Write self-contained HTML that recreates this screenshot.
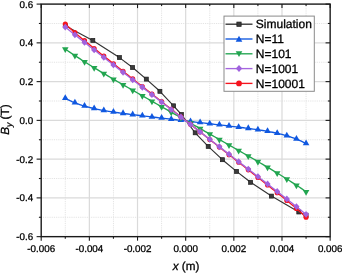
<!DOCTYPE html><html><head><meta charset="utf-8"><style>html,body{margin:0;padding:0;background:#fff}svg{display:block}text{font-family:"Liberation Sans",sans-serif;fill:#000;text-rendering:geometricPrecision;stroke:#000;stroke-width:0.3px}</style></head><body>
<svg width="342" height="273" viewBox="0 0 342 273">
<rect width="342" height="273" fill="#fff"/>
<line x1="65.28" y1="4.1" x2="65.28" y2="236.65" stroke="#e0e0e0" stroke-width="1" stroke-dasharray="0.92 0.92"/>
<line x1="113.44" y1="4.1" x2="113.44" y2="236.65" stroke="#e0e0e0" stroke-width="1" stroke-dasharray="0.92 0.92"/>
<line x1="161.6" y1="4.1" x2="161.6" y2="236.65" stroke="#e0e0e0" stroke-width="1" stroke-dasharray="0.92 0.92"/>
<line x1="209.75" y1="4.1" x2="209.75" y2="236.65" stroke="#e0e0e0" stroke-width="1" stroke-dasharray="0.92 0.92"/>
<line x1="257.91" y1="4.1" x2="257.91" y2="236.65" stroke="#e0e0e0" stroke-width="1" stroke-dasharray="0.92 0.92"/>
<line x1="306.07" y1="4.1" x2="306.07" y2="236.65" stroke="#e0e0e0" stroke-width="1" stroke-dasharray="0.92 0.92"/>
<line x1="41.2" y1="217.27" x2="330.15" y2="217.27" stroke="#e0e0e0" stroke-width="1" stroke-dasharray="0.92 0.92"/>
<line x1="41.2" y1="178.51" x2="330.15" y2="178.51" stroke="#e0e0e0" stroke-width="1" stroke-dasharray="0.92 0.92"/>
<line x1="41.2" y1="139.75" x2="330.15" y2="139.75" stroke="#e0e0e0" stroke-width="1" stroke-dasharray="0.92 0.92"/>
<line x1="41.2" y1="101" x2="330.15" y2="101" stroke="#e0e0e0" stroke-width="1" stroke-dasharray="0.92 0.92"/>
<line x1="41.2" y1="62.24" x2="330.15" y2="62.24" stroke="#e0e0e0" stroke-width="1" stroke-dasharray="0.92 0.92"/>
<line x1="41.2" y1="23.48" x2="330.15" y2="23.48" stroke="#e0e0e0" stroke-width="1" stroke-dasharray="0.92 0.92"/>
<line x1="89.36" y1="4.1" x2="89.36" y2="236.65" stroke="#dadada" stroke-width="1.2"/>
<line x1="137.52" y1="4.1" x2="137.52" y2="236.65" stroke="#dadada" stroke-width="1.2"/>
<line x1="185.67" y1="4.1" x2="185.67" y2="236.65" stroke="#dadada" stroke-width="1.2"/>
<line x1="233.83" y1="4.1" x2="233.83" y2="236.65" stroke="#dadada" stroke-width="1.2"/>
<line x1="281.99" y1="4.1" x2="281.99" y2="236.65" stroke="#dadada" stroke-width="1.2"/>
<line x1="41.2" y1="197.89" x2="330.15" y2="197.89" stroke="#dadada" stroke-width="1.2"/>
<line x1="41.2" y1="159.13" x2="330.15" y2="159.13" stroke="#dadada" stroke-width="1.2"/>
<line x1="41.2" y1="120.38" x2="330.15" y2="120.38" stroke="#dadada" stroke-width="1.2"/>
<line x1="41.2" y1="81.62" x2="330.15" y2="81.62" stroke="#dadada" stroke-width="1.2"/>
<line x1="41.2" y1="42.86" x2="330.15" y2="42.86" stroke="#dadada" stroke-width="1.2"/>
<polyline fill="none" stroke="#333333" stroke-width="1.15" stroke-linejoin="round" points="65.3,25.8 92.8,40.4 119.4,57.6 132.6,67.5 146.3,79.1 159.9,91.3 173.6,105.8 181.4,114.5 195.2,132.8 208.2,146.4 222.4,159.7 236.5,171.4 250.6,182.3 271.4,196.1 298.8,212 306.07,215.2"/>
<rect x="63.3" y="23.8" width="4.0" height="4.0" fill="#3a3a3a" stroke="#1c1c1c" stroke-width="0.7"/>
<rect x="90.8" y="38.4" width="4.0" height="4.0" fill="#3a3a3a" stroke="#1c1c1c" stroke-width="0.7"/>
<rect x="117.4" y="55.6" width="4.0" height="4.0" fill="#3a3a3a" stroke="#1c1c1c" stroke-width="0.7"/>
<rect x="130.6" y="65.5" width="4.0" height="4.0" fill="#3a3a3a" stroke="#1c1c1c" stroke-width="0.7"/>
<rect x="144.3" y="77.1" width="4.0" height="4.0" fill="#3a3a3a" stroke="#1c1c1c" stroke-width="0.7"/>
<rect x="157.9" y="89.3" width="4.0" height="4.0" fill="#3a3a3a" stroke="#1c1c1c" stroke-width="0.7"/>
<rect x="171.6" y="103.8" width="4.0" height="4.0" fill="#3a3a3a" stroke="#1c1c1c" stroke-width="0.7"/>
<rect x="179.4" y="112.5" width="4.0" height="4.0" fill="#3a3a3a" stroke="#1c1c1c" stroke-width="0.7"/>
<rect x="193.2" y="130.8" width="4.0" height="4.0" fill="#3a3a3a" stroke="#1c1c1c" stroke-width="0.7"/>
<rect x="206.2" y="144.4" width="4.0" height="4.0" fill="#3a3a3a" stroke="#1c1c1c" stroke-width="0.7"/>
<rect x="220.4" y="157.7" width="4.0" height="4.0" fill="#3a3a3a" stroke="#1c1c1c" stroke-width="0.7"/>
<rect x="234.5" y="169.4" width="4.0" height="4.0" fill="#3a3a3a" stroke="#1c1c1c" stroke-width="0.7"/>
<rect x="248.6" y="180.3" width="4.0" height="4.0" fill="#3a3a3a" stroke="#1c1c1c" stroke-width="0.7"/>
<rect x="269.4" y="194.1" width="4.0" height="4.0" fill="#3a3a3a" stroke="#1c1c1c" stroke-width="0.7"/>
<rect x="296.8" y="210" width="4.0" height="4.0" fill="#3a3a3a" stroke="#1c1c1c" stroke-width="0.7"/>
<rect x="304.07" y="213.2" width="4.0" height="4.0" fill="#3a3a3a" stroke="#1c1c1c" stroke-width="0.7"/>
<polyline fill="none" stroke="#1058E0" stroke-width="1.35" stroke-linejoin="round" points="65.28,98.28 67.69,99.54 70.09,100.7 72.5,101.77 74.91,102.77 77.32,103.69 79.73,104.54 82.13,105.34 84.54,106.07 86.95,106.76 89.36,107.4 91.77,107.99 94.17,108.55 96.58,109.08 98.99,109.57 101.4,110.04 103.81,110.48 106.21,110.9 108.62,111.3 111.03,111.69 113.44,112.05 115.85,112.41 118.25,112.75 120.66,113.09 123.07,113.41 125.48,113.73 127.88,114.04 130.29,114.35 132.7,114.65 135.11,114.95 137.52,115.24 139.92,115.53 142.33,115.82 144.74,116.11 147.15,116.39 149.56,116.68 151.96,116.96 154.37,117.25 156.78,117.53 159.19,117.81 161.6,118.1 164,118.38 166.41,118.66 168.82,118.94 171.23,119.22 173.64,119.51 176.04,119.79 178.45,120.07 180.86,120.35 183.27,120.64 185.67,120.92 188.08,121.2 190.49,121.48 192.9,121.76 195.31,122.05 197.71,122.33 200.12,122.61 202.53,122.89 204.94,123.18 207.35,123.46 209.75,123.74 212.16,124.02 214.57,124.31 216.98,124.59 219.39,124.87 221.79,125.16 224.2,125.44 226.61,125.73 229.02,126.02 231.43,126.3 233.83,126.6 236.24,126.89 238.65,127.19 241.06,127.49 243.46,127.79 245.87,128.1 248.28,128.42 250.69,128.75 253.1,129.08 255.5,129.42 257.91,129.78 260.32,130.15 262.73,130.53 265.14,130.93 267.54,131.35 269.95,131.8 272.36,132.26 274.77,132.76 277.18,133.28 279.58,133.84 281.99,134.44 284.4,135.08 286.81,135.76 289.22,136.5 291.62,137.29 294.03,138.15 296.44,139.07 298.85,140.06 301.25,141.14 303.66,142.3 306.07,143.55"/>
<polygon points="65.28,94.22 61.98,100.02 68.58,100.02" fill="#1058E0"/>
<polygon points="74.91,98.71 71.61,104.51 78.21,104.51" fill="#1058E0"/>
<polygon points="84.54,102.01 81.24,107.81 87.84,107.81" fill="#1058E0"/>
<polygon points="94.17,104.49 90.87,110.29 97.47,110.29" fill="#1058E0"/>
<polygon points="103.81,106.42 100.51,112.22 107.11,112.22" fill="#1058E0"/>
<polygon points="113.44,107.99 110.14,113.79 116.74,113.79" fill="#1058E0"/>
<polygon points="123.07,109.35 119.77,115.15 126.37,115.15" fill="#1058E0"/>
<polygon points="132.7,110.59 129.4,116.39 136,116.39" fill="#1058E0"/>
<polygon points="142.33,111.76 139.03,117.56 145.63,117.56" fill="#1058E0"/>
<polygon points="151.96,112.9 148.66,118.7 155.26,118.7" fill="#1058E0"/>
<polygon points="161.6,114.04 158.3,119.84 164.9,119.84" fill="#1058E0"/>
<polygon points="171.23,115.16 167.93,120.96 174.53,120.96" fill="#1058E0"/>
<polygon points="180.86,116.29 177.56,122.09 184.16,122.09" fill="#1058E0"/>
<polygon points="190.49,117.42 187.19,123.22 193.79,123.22" fill="#1058E0"/>
<polygon points="200.12,118.55 196.82,124.35 203.42,124.35" fill="#1058E0"/>
<polygon points="209.75,119.68 206.45,125.48 213.05,125.48" fill="#1058E0"/>
<polygon points="219.39,120.81 216.09,126.61 222.69,126.61" fill="#1058E0"/>
<polygon points="229.02,121.96 225.72,127.76 232.32,127.76" fill="#1058E0"/>
<polygon points="238.65,123.13 235.35,128.93 241.95,128.93" fill="#1058E0"/>
<polygon points="248.28,124.36 244.98,130.16 251.58,130.16" fill="#1058E0"/>
<polygon points="257.91,125.72 254.61,131.52 261.21,131.52" fill="#1058E0"/>
<polygon points="267.54,127.29 264.24,133.09 270.84,133.09" fill="#1058E0"/>
<polygon points="277.18,129.22 273.88,135.02 280.48,135.02" fill="#1058E0"/>
<polygon points="286.81,131.7 283.51,137.5 290.11,137.5" fill="#1058E0"/>
<polygon points="296.44,135.01 293.14,140.81 299.74,140.81" fill="#1058E0"/>
<polygon points="306.07,139.49 302.77,145.29 309.37,145.29" fill="#1058E0"/>
<polyline fill="none" stroke="#22A550" stroke-width="1.35" stroke-linejoin="round" points="65.28,49.06 67.69,50.71 70.09,52.35 72.5,53.96 74.91,55.55 77.32,57.12 79.73,58.68 82.13,60.21 84.54,61.74 86.95,63.25 89.36,64.74 91.77,66.22 94.17,67.7 96.58,69.16 98.99,70.61 101.4,72.05 103.81,73.49 106.21,74.91 108.62,76.33 111.03,77.75 113.44,79.15 115.85,80.56 118.25,81.96 120.66,83.35 123.07,84.74 125.48,86.13 127.88,87.51 130.29,88.89 132.7,90.27 135.11,91.64 137.52,93.02 139.92,94.39 142.33,95.76 144.74,97.14 147.15,98.51 149.56,99.87 151.96,101.24 154.37,102.61 156.78,103.98 159.19,105.34 161.6,106.71 164,108.08 166.41,109.44 168.82,110.81 171.23,112.18 173.64,113.54 176.04,114.91 178.45,116.28 180.86,117.64 183.27,119.01 185.67,120.38 188.08,121.74 190.49,123.11 192.9,124.47 195.31,125.84 197.71,127.21 200.12,128.57 202.53,129.94 204.94,131.31 207.35,132.67 209.75,134.04 212.16,135.41 214.57,136.77 216.98,138.14 219.39,139.51 221.79,140.88 224.2,142.24 226.61,143.61 229.02,144.99 231.43,146.36 233.83,147.73 236.24,149.11 238.65,150.48 241.06,151.86 243.46,153.24 245.87,154.62 248.28,156.01 250.69,157.4 253.1,158.79 255.5,160.19 257.91,161.6 260.32,163 262.73,164.42 265.14,165.84 267.54,167.26 269.95,168.7 272.36,170.14 274.77,171.59 277.18,173.05 279.58,174.53 281.99,176.01 284.4,177.5 286.81,179.01 289.22,180.54 291.62,182.07 294.03,183.63 296.44,185.2 298.85,186.79 301.25,188.4 303.66,190.04 306.07,191.69"/>
<polygon points="65.28,53.12 61.98,47.32 68.58,47.32" fill="#22A550"/>
<polygon points="74.91,59.61 71.61,53.81 78.21,53.81" fill="#22A550"/>
<polygon points="84.54,65.8 81.24,60 87.84,60" fill="#22A550"/>
<polygon points="94.17,71.76 90.87,65.96 97.47,65.96" fill="#22A550"/>
<polygon points="103.81,77.55 100.51,71.75 107.11,71.75" fill="#22A550"/>
<polygon points="113.44,83.21 110.14,77.41 116.74,77.41" fill="#22A550"/>
<polygon points="123.07,88.8 119.77,83 126.37,83" fill="#22A550"/>
<polygon points="132.7,94.33 129.4,88.53 136,88.53" fill="#22A550"/>
<polygon points="142.33,99.82 139.03,94.02 145.63,94.02" fill="#22A550"/>
<polygon points="151.96,105.3 148.66,99.5 155.26,99.5" fill="#22A550"/>
<polygon points="161.6,110.77 158.3,104.97 164.9,104.97" fill="#22A550"/>
<polygon points="171.23,116.24 167.93,110.44 174.53,110.44" fill="#22A550"/>
<polygon points="180.86,121.7 177.56,115.9 184.16,115.9" fill="#22A550"/>
<polygon points="190.49,127.17 187.19,121.37 193.79,121.37" fill="#22A550"/>
<polygon points="200.12,132.63 196.82,126.83 203.42,126.83" fill="#22A550"/>
<polygon points="209.75,138.1 206.45,132.3 213.05,132.3" fill="#22A550"/>
<polygon points="219.39,143.57 216.09,137.77 222.69,137.77" fill="#22A550"/>
<polygon points="229.02,149.05 225.72,143.25 232.32,143.25" fill="#22A550"/>
<polygon points="238.65,154.54 235.35,148.74 241.95,148.74" fill="#22A550"/>
<polygon points="248.28,160.07 244.98,154.27 251.58,154.27" fill="#22A550"/>
<polygon points="257.91,165.66 254.61,159.86 261.21,159.86" fill="#22A550"/>
<polygon points="267.54,171.32 264.24,165.52 270.84,165.52" fill="#22A550"/>
<polygon points="277.18,177.11 273.88,171.31 280.48,171.31" fill="#22A550"/>
<polygon points="286.81,183.07 283.51,177.27 290.11,177.27" fill="#22A550"/>
<polygon points="296.44,189.26 293.14,183.46 299.74,183.46" fill="#22A550"/>
<polygon points="306.07,195.75 302.77,189.95 309.37,189.95" fill="#22A550"/>
<polyline fill="none" stroke="#F5141E" stroke-width="1.35" stroke-linejoin="round" points="65.28,23.96 67.69,26.2 70.09,28.37 72.5,30.5 74.91,32.59 77.32,34.64 79.73,36.66 82.13,38.66 84.54,40.64 86.95,42.61 89.36,44.56 91.77,46.5 94.17,48.43 96.58,50.35 98.99,52.27 101.4,54.18 103.81,56.09 106.21,58 108.62,59.9 111.03,61.8 113.44,63.7 115.85,65.6 118.25,67.5 120.66,69.39 123.07,71.29 125.48,73.18 127.88,75.08 130.29,76.98 132.7,78.87 135.11,80.77 137.52,82.66 139.92,84.56 142.33,86.45 144.74,88.35 147.15,90.24 149.56,92.14 151.96,94.03 154.37,95.93 156.78,97.83 159.19,99.72 161.6,101.62 164,103.51 166.41,105.41 168.82,107.3 171.23,109.2 173.64,111.09 176.04,112.99 178.45,114.88 180.86,116.78 183.27,118.67 185.67,120.57 188.08,122.46 190.49,124.36 192.9,126.25 195.31,128.15 197.71,130.05 200.12,131.94 202.53,133.84 204.94,135.73 207.35,137.63 209.75,139.52 212.16,141.42 214.57,143.31 216.98,145.21 219.39,147.1 221.79,149 224.2,150.89 226.61,152.79 229.02,154.68 231.43,156.58 233.83,158.47 236.24,160.37 238.65,162.27 241.06,164.16 243.46,166.06 245.87,167.95 248.28,169.85 250.69,171.75 253.1,173.64 255.5,175.54 257.91,177.44 260.32,179.34 262.73,181.24 265.14,183.14 267.54,185.05 269.95,186.96 272.36,188.87 274.77,190.78 277.18,192.71 279.58,194.64 281.99,196.58 284.4,198.53 286.81,200.49 289.22,202.47 291.62,204.47 294.03,206.5 296.44,208.55 298.85,210.64 301.25,212.77 303.66,214.94 306.07,217.17"/>
<circle cx="65.28" cy="23.96" r="2.55" fill="#F5141E"/>
<circle cx="74.91" cy="32.59" r="2.55" fill="#F5141E"/>
<circle cx="84.54" cy="40.64" r="2.55" fill="#F5141E"/>
<circle cx="94.17" cy="48.43" r="2.55" fill="#F5141E"/>
<circle cx="103.81" cy="56.09" r="2.55" fill="#F5141E"/>
<circle cx="113.44" cy="63.7" r="2.55" fill="#F5141E"/>
<circle cx="123.07" cy="71.29" r="2.55" fill="#F5141E"/>
<circle cx="132.7" cy="78.87" r="2.55" fill="#F5141E"/>
<circle cx="142.33" cy="86.45" r="2.55" fill="#F5141E"/>
<circle cx="151.96" cy="94.03" r="2.55" fill="#F5141E"/>
<circle cx="161.6" cy="101.62" r="2.55" fill="#F5141E"/>
<circle cx="171.23" cy="109.2" r="2.55" fill="#F5141E"/>
<circle cx="180.86" cy="116.78" r="2.55" fill="#F5141E"/>
<circle cx="190.49" cy="124.36" r="2.55" fill="#F5141E"/>
<circle cx="200.12" cy="131.94" r="2.55" fill="#F5141E"/>
<circle cx="209.75" cy="139.52" r="2.55" fill="#F5141E"/>
<circle cx="219.39" cy="147.1" r="2.55" fill="#F5141E"/>
<circle cx="229.02" cy="154.68" r="2.55" fill="#F5141E"/>
<circle cx="238.65" cy="162.27" r="2.55" fill="#F5141E"/>
<circle cx="248.28" cy="169.85" r="2.55" fill="#F5141E"/>
<circle cx="257.91" cy="177.44" r="2.55" fill="#F5141E"/>
<circle cx="267.54" cy="185.05" r="2.55" fill="#F5141E"/>
<circle cx="277.18" cy="192.71" r="2.55" fill="#F5141E"/>
<circle cx="286.81" cy="200.49" r="2.55" fill="#F5141E"/>
<circle cx="296.44" cy="208.55" r="2.55" fill="#F5141E"/>
<circle cx="306.07" cy="217.17" r="2.55" fill="#F5141E"/>
<polyline fill="none" stroke="#A566DF" stroke-width="1.35" stroke-linejoin="round" points="65.28,27.08 67.69,29.04 70.09,30.98 72.5,32.91 74.91,34.83 77.32,36.74 79.73,38.64 82.13,40.54 84.54,42.43 86.95,44.32 89.36,46.2 91.77,48.08 94.17,49.96 96.58,51.83 98.99,53.7 101.4,55.57 103.81,57.44 106.21,59.31 108.62,61.17 111.03,63.04 113.44,64.9 115.85,66.76 118.25,68.63 120.66,70.49 123.07,72.35 125.48,74.21 127.88,76.07 130.29,77.93 132.7,79.79 135.11,81.65 137.52,83.52 139.92,85.38 142.33,87.24 144.74,89.1 147.15,90.96 149.56,92.82 151.96,94.68 154.37,96.54 156.78,98.4 159.19,100.26 161.6,102.12 164,103.98 166.41,105.84 168.82,107.7 171.23,109.56 173.64,111.42 176.04,113.28 178.45,115.14 180.86,117 183.27,118.86 185.67,120.72 188.08,122.58 190.49,124.44 192.9,126.31 195.31,128.17 197.71,130.03 200.12,131.89 202.53,133.75 204.94,135.61 207.35,137.47 209.75,139.33 212.16,141.19 214.57,143.05 216.98,144.91 219.39,146.77 221.79,148.63 224.2,150.49 226.61,152.35 229.02,154.21 231.43,156.07 233.83,157.93 236.24,159.79 238.65,161.65 241.06,163.51 243.46,165.38 245.87,167.24 248.28,169.1 250.69,170.96 253.1,172.82 255.5,174.68 257.91,176.55 260.32,178.41 262.73,180.27 265.14,182.14 267.54,184.01 269.95,185.87 272.36,187.74 274.77,189.61 277.18,191.49 279.58,193.36 281.99,195.24 284.4,197.13 286.81,199.01 289.22,200.91 291.62,202.8 294.03,204.71 296.44,206.62 298.85,208.54 301.25,210.47 303.66,212.41 306.07,214.36"/>
<polygon points="65.28,23.68 68.33,27.08 65.28,30.48 62.23,27.08" fill="#A062DE"/>
<polygon points="74.91,31.43 77.96,34.83 74.91,38.23 71.86,34.83" fill="#A062DE"/>
<polygon points="84.54,39.03 87.59,42.43 84.54,45.83 81.49,42.43" fill="#A062DE"/>
<polygon points="94.17,46.56 97.22,49.96 94.17,53.36 91.12,49.96" fill="#A062DE"/>
<polygon points="103.81,54.04 106.86,57.44 103.81,60.84 100.76,57.44" fill="#A062DE"/>
<polygon points="113.44,61.5 116.49,64.9 113.44,68.3 110.39,64.9" fill="#A062DE"/>
<polygon points="123.07,68.95 126.12,72.35 123.07,75.75 120.02,72.35" fill="#A062DE"/>
<polygon points="132.7,76.39 135.75,79.79 132.7,83.19 129.65,79.79" fill="#A062DE"/>
<polygon points="142.33,83.84 145.38,87.24 142.33,90.64 139.28,87.24" fill="#A062DE"/>
<polygon points="151.96,91.28 155.01,94.68 151.96,98.08 148.91,94.68" fill="#A062DE"/>
<polygon points="161.6,98.72 164.65,102.12 161.6,105.52 158.55,102.12" fill="#A062DE"/>
<polygon points="171.23,106.16 174.28,109.56 171.23,112.96 168.18,109.56" fill="#A062DE"/>
<polygon points="180.86,113.6 183.91,117 180.86,120.4 177.81,117" fill="#A062DE"/>
<polygon points="190.49,121.04 193.54,124.44 190.49,127.84 187.44,124.44" fill="#A062DE"/>
<polygon points="200.12,128.49 203.17,131.89 200.12,135.29 197.07,131.89" fill="#A062DE"/>
<polygon points="209.75,135.93 212.8,139.33 209.75,142.73 206.7,139.33" fill="#A062DE"/>
<polygon points="219.39,143.37 222.44,146.77 219.39,150.17 216.34,146.77" fill="#A062DE"/>
<polygon points="229.02,150.81 232.07,154.21 229.02,157.61 225.97,154.21" fill="#A062DE"/>
<polygon points="238.65,158.25 241.7,161.65 238.65,165.05 235.6,161.65" fill="#A062DE"/>
<polygon points="248.28,165.7 251.33,169.1 248.28,172.5 245.23,169.1" fill="#A062DE"/>
<polygon points="257.91,173.15 260.96,176.55 257.91,179.95 254.86,176.55" fill="#A062DE"/>
<polygon points="267.54,180.61 270.59,184.01 267.54,187.41 264.49,184.01" fill="#A062DE"/>
<polygon points="277.18,188.09 280.23,191.49 277.18,194.89 274.13,191.49" fill="#A062DE"/>
<polygon points="286.81,195.61 289.86,199.01 286.81,202.41 283.76,199.01" fill="#A062DE"/>
<polygon points="296.44,203.22 299.49,206.62 296.44,210.02 293.39,206.62" fill="#A062DE"/>
<polygon points="306.07,210.96 309.12,214.36 306.07,217.76 303.02,214.36" fill="#A062DE"/>
<rect x="41.2" y="4.1" width="288.95" height="232.55" fill="none" stroke="#1a1a1a" stroke-width="1.4"/>
<line x1="41.2" y1="236.65" x2="41.2" y2="240.65" stroke="#1a1a1a" stroke-width="1.1"/>
<line x1="41.2" y1="4.1" x2="41.2" y2="8.1" stroke="#1a1a1a" stroke-width="1.1"/>
<line x1="65.28" y1="236.65" x2="65.28" y2="238.65" stroke="#1a1a1a" stroke-width="1.1"/>
<line x1="65.28" y1="4.1" x2="65.28" y2="6.1" stroke="#1a1a1a" stroke-width="1.1"/>
<line x1="89.36" y1="236.65" x2="89.36" y2="240.65" stroke="#1a1a1a" stroke-width="1.1"/>
<line x1="89.36" y1="4.1" x2="89.36" y2="8.1" stroke="#1a1a1a" stroke-width="1.1"/>
<line x1="113.44" y1="236.65" x2="113.44" y2="238.65" stroke="#1a1a1a" stroke-width="1.1"/>
<line x1="113.44" y1="4.1" x2="113.44" y2="6.1" stroke="#1a1a1a" stroke-width="1.1"/>
<line x1="137.52" y1="236.65" x2="137.52" y2="240.65" stroke="#1a1a1a" stroke-width="1.1"/>
<line x1="137.52" y1="4.1" x2="137.52" y2="8.1" stroke="#1a1a1a" stroke-width="1.1"/>
<line x1="161.6" y1="236.65" x2="161.6" y2="238.65" stroke="#1a1a1a" stroke-width="1.1"/>
<line x1="161.6" y1="4.1" x2="161.6" y2="6.1" stroke="#1a1a1a" stroke-width="1.1"/>
<line x1="185.67" y1="236.65" x2="185.67" y2="240.65" stroke="#1a1a1a" stroke-width="1.1"/>
<line x1="185.67" y1="4.1" x2="185.67" y2="8.1" stroke="#1a1a1a" stroke-width="1.1"/>
<line x1="209.75" y1="236.65" x2="209.75" y2="238.65" stroke="#1a1a1a" stroke-width="1.1"/>
<line x1="209.75" y1="4.1" x2="209.75" y2="6.1" stroke="#1a1a1a" stroke-width="1.1"/>
<line x1="233.83" y1="236.65" x2="233.83" y2="240.65" stroke="#1a1a1a" stroke-width="1.1"/>
<line x1="233.83" y1="4.1" x2="233.83" y2="8.1" stroke="#1a1a1a" stroke-width="1.1"/>
<line x1="257.91" y1="236.65" x2="257.91" y2="238.65" stroke="#1a1a1a" stroke-width="1.1"/>
<line x1="257.91" y1="4.1" x2="257.91" y2="6.1" stroke="#1a1a1a" stroke-width="1.1"/>
<line x1="281.99" y1="236.65" x2="281.99" y2="240.65" stroke="#1a1a1a" stroke-width="1.1"/>
<line x1="281.99" y1="4.1" x2="281.99" y2="8.1" stroke="#1a1a1a" stroke-width="1.1"/>
<line x1="306.07" y1="236.65" x2="306.07" y2="238.65" stroke="#1a1a1a" stroke-width="1.1"/>
<line x1="306.07" y1="4.1" x2="306.07" y2="6.1" stroke="#1a1a1a" stroke-width="1.1"/>
<line x1="330.15" y1="236.65" x2="330.15" y2="240.65" stroke="#1a1a1a" stroke-width="1.1"/>
<line x1="330.15" y1="4.1" x2="330.15" y2="8.1" stroke="#1a1a1a" stroke-width="1.1"/>
<line x1="41.2" y1="236.65" x2="36.6" y2="236.65" stroke="#1a1a1a" stroke-width="1.1"/>
<line x1="330.15" y1="236.65" x2="325.55" y2="236.65" stroke="#1a1a1a" stroke-width="1.1"/>
<line x1="41.2" y1="217.27" x2="38.9" y2="217.27" stroke="#1a1a1a" stroke-width="1.1"/>
<line x1="330.15" y1="217.27" x2="327.85" y2="217.27" stroke="#1a1a1a" stroke-width="1.1"/>
<line x1="41.2" y1="197.89" x2="36.6" y2="197.89" stroke="#1a1a1a" stroke-width="1.1"/>
<line x1="330.15" y1="197.89" x2="325.55" y2="197.89" stroke="#1a1a1a" stroke-width="1.1"/>
<line x1="41.2" y1="178.51" x2="38.9" y2="178.51" stroke="#1a1a1a" stroke-width="1.1"/>
<line x1="330.15" y1="178.51" x2="327.85" y2="178.51" stroke="#1a1a1a" stroke-width="1.1"/>
<line x1="41.2" y1="159.13" x2="36.6" y2="159.13" stroke="#1a1a1a" stroke-width="1.1"/>
<line x1="330.15" y1="159.13" x2="325.55" y2="159.13" stroke="#1a1a1a" stroke-width="1.1"/>
<line x1="41.2" y1="139.75" x2="38.9" y2="139.75" stroke="#1a1a1a" stroke-width="1.1"/>
<line x1="330.15" y1="139.75" x2="327.85" y2="139.75" stroke="#1a1a1a" stroke-width="1.1"/>
<line x1="41.2" y1="120.38" x2="36.6" y2="120.38" stroke="#1a1a1a" stroke-width="1.1"/>
<line x1="330.15" y1="120.38" x2="325.55" y2="120.38" stroke="#1a1a1a" stroke-width="1.1"/>
<line x1="41.2" y1="101" x2="38.9" y2="101" stroke="#1a1a1a" stroke-width="1.1"/>
<line x1="330.15" y1="101" x2="327.85" y2="101" stroke="#1a1a1a" stroke-width="1.1"/>
<line x1="41.2" y1="81.62" x2="36.6" y2="81.62" stroke="#1a1a1a" stroke-width="1.1"/>
<line x1="330.15" y1="81.62" x2="325.55" y2="81.62" stroke="#1a1a1a" stroke-width="1.1"/>
<line x1="41.2" y1="62.24" x2="38.9" y2="62.24" stroke="#1a1a1a" stroke-width="1.1"/>
<line x1="330.15" y1="62.24" x2="327.85" y2="62.24" stroke="#1a1a1a" stroke-width="1.1"/>
<line x1="41.2" y1="42.86" x2="36.6" y2="42.86" stroke="#1a1a1a" stroke-width="1.1"/>
<line x1="330.15" y1="42.86" x2="325.55" y2="42.86" stroke="#1a1a1a" stroke-width="1.1"/>
<line x1="41.2" y1="23.48" x2="38.9" y2="23.48" stroke="#1a1a1a" stroke-width="1.1"/>
<line x1="330.15" y1="23.48" x2="327.85" y2="23.48" stroke="#1a1a1a" stroke-width="1.1"/>
<line x1="41.2" y1="4.1" x2="36.6" y2="4.1" stroke="#1a1a1a" stroke-width="1.1"/>
<line x1="330.15" y1="4.1" x2="325.55" y2="4.1" stroke="#1a1a1a" stroke-width="1.1"/>
<g style="filter:grayscale(1)">
<text x="41.2" y="251.6" font-size="9.8" text-anchor="middle">-0.006</text>
<text x="89.36" y="251.6" font-size="9.8" text-anchor="middle">-0.004</text>
<text x="137.52" y="251.6" font-size="9.8" text-anchor="middle">-0.002</text>
<text x="185.67" y="251.6" font-size="9.8" text-anchor="middle">0.000</text>
<text x="233.83" y="251.6" font-size="9.8" text-anchor="middle">0.002</text>
<text x="281.99" y="251.6" font-size="9.8" text-anchor="middle">0.004</text>
<text x="330.15" y="251.6" font-size="9.8" text-anchor="middle">0.006</text>
<text x="33.2" y="240.15" font-size="9.8" text-anchor="end">-0.6</text>
<text x="33.2" y="201.39" font-size="9.8" text-anchor="end">-0.4</text>
<text x="33.2" y="162.63" font-size="9.8" text-anchor="end">-0.2</text>
<text x="33.2" y="123.88" font-size="9.8" text-anchor="end">0.0</text>
<text x="33.2" y="85.12" font-size="9.8" text-anchor="end">0.2</text>
<text x="33.2" y="46.36" font-size="9.8" text-anchor="end">0.4</text>
<text x="33.2" y="7.6" font-size="9.8" text-anchor="end">0.6</text>
<text x="186" y="269.9" font-size="11.7" text-anchor="middle"><tspan font-style="italic">x</tspan> (m)</text>
<text transform="translate(9,119.6) rotate(-90)" font-size="11.8" text-anchor="middle"><tspan font-style="italic">B</tspan><tspan font-size="8.6" dy="3.2" font-style="italic">y</tspan><tspan dy="-3.2"> (T)</tspan></text>
</g>
<rect x="224" y="16.1" width="90.3" height="75.2" fill="#fff" stroke="#8a8a8a" stroke-width="1"/>
<line x1="225.5" y1="24.2" x2="252.5" y2="24.2" stroke="#333333" stroke-width="1.35"/>
<rect x="236.85" y="22.05" width="4.3" height="4.3" fill="#3a3a3a" stroke="#1c1c1c" stroke-width="0.7"/>
<g style="filter:grayscale(1)"><text x="255.8" y="28.4" font-size="12">Simulation</text></g>
<line x1="225.5" y1="39.0" x2="252.5" y2="39.0" stroke="#1058E0" stroke-width="1.35"/>
<polygon points="239,35.77 235.7,41.67 242.3,41.67" fill="#1058E0"/>
<g style="filter:grayscale(1)"><text x="255.8" y="43.2" font-size="12">N=11</text></g>
<line x1="225.5" y1="53.8" x2="252.5" y2="53.8" stroke="#22A550" stroke-width="1.35"/>
<polygon points="239,57.03 235.7,51.13 242.3,51.13" fill="#22A550"/>
<g style="filter:grayscale(1)"><text x="255.8" y="58.0" font-size="12">N=101</text></g>
<line x1="225.5" y1="68.6" x2="252.5" y2="68.6" stroke="#A566DF" stroke-width="1.35"/>
<polygon points="239,65.1 242.2,68.6 239,72.1 235.8,68.6" fill="#A062DE"/>
<g style="filter:grayscale(1)"><text x="255.8" y="72.8" font-size="12">N=1001</text></g>
<line x1="225.5" y1="83.4" x2="252.5" y2="83.4" stroke="#F5141E" stroke-width="1.35"/>
<circle cx="239" cy="83.4" r="2.9" fill="#F5141E"/>
<g style="filter:grayscale(1)"><text x="255.8" y="87.60000000000001" font-size="12">N=10001</text></g>
</svg></body></html>
